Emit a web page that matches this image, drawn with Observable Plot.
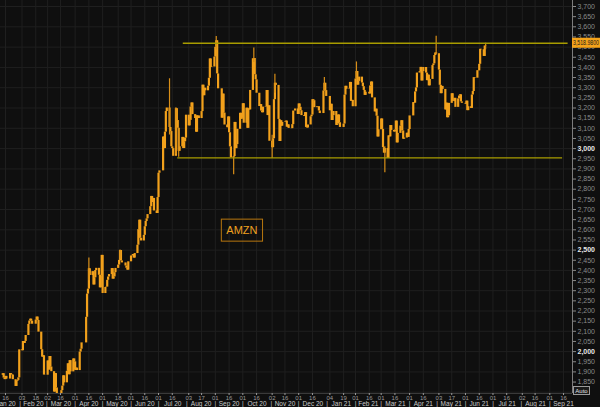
<!DOCTYPE html>
<html><head><meta charset="utf-8">
<script src="https://cdn.jsdelivr.net/npm/d3@7"></script>
<script src="https://cdn.jsdelivr.net/npm/@observablehq/plot@0.6"></script>
<style>html,body{margin:0;padding:0;background:#0f0f0f;overflow:hidden}</style>
</head><body><div id="chart"></div>
<script>
// Daily closes (AMZN), one value per weekday, null = market holiday
const c2001 = [1883.16,1891.30,1869.44,1862.02,1877.94,1864.72,null,1892.00,1887.46,1884.58,1861.64,1828.34,1853.25,1858.00,1870.68,2008.72];
const c2002 = [2004.20,2049.67,2039.87,2050.23,2079.28,2133.91,2150.80,2160.00,2149.87,2134.87,null,2155.67,2170.22,2153.10,2095.97,2009.29,1972.74,1979.59,1884.30,1883.75];
const c2003 = [1953.95,1908.99,1975.83,1924.03,1901.09,1800.61,1891.82,1820.86,1676.61,1785.00,1689.15,1807.84,1830.00,1880.93,1846.09,1902.83,1940.10,1885.84,1955.49,1900.10,1963.95,1949.72];
const c2004 = [1907.70,1918.83,1906.59,1997.59,2011.60,2043.00,2042.76,null,2168.87,2283.32,2307.68,2408.19,2375.00,2393.61,2328.12,2363.49,2399.45,2410.22,2376.00,2314.08,2372.71,2474.00];
const c2005 = [2286.04,2315.99,2317.80,2351.26,2367.61,2379.61,2409.00,2356.95,2367.92,2388.85,2409.78,2426.26,2449.33,2497.94,2446.74,2436.88,null,2421.86,2410.39,2401.10,2442.37];
const c2006 = [2471.04,2472.41,2478.40,2460.60,2483.00,2524.06,2600.86,2647.45,2557.96,2545.02,2572.68,2615.27,2640.98,2653.98,2675.01,2713.82,2764.41,2734.40,2754.58,2692.87,2680.38,2758.82];
const c2007 = [2878.70,2890.30,null,3057.04,3000.12,3081.11,3182.63,3200.00,3104.00,3084.00,3008.87,2999.90,2961.97,3196.84,3138.29,3099.91,2986.55,3008.91,3055.21,3000.33,3033.53,3051.88,3164.68];
const c2008 = [3111.89,3138.83,3205.03,3225.00,3167.46,3148.16,3080.67,3162.24,3161.02,3148.02,3182.41,3312.49,3260.48,3297.37,3284.72,3307.46,3346.49,3441.85,3400.00,3401.80,3450.96];
const c2009 = [3499.12,3531.45,3368.00,3294.62,null,3149.84,3268.61,3175.11,3116.22,3102.97,3156.13,3078.10,3008.73,2954.91,2960.47,3128.99,2999.86,3019.79,3095.13,3174.05,3144.88,3148.73];
const c2010 = [3221.26,3125.00,3199.20,3099.96,3195.69,3190.55,3286.65,3442.93,3443.63,3363.71,3338.65,3272.71,3207.21,3217.01,3184.94,3176.40,3204.40,3207.04,3286.33,3162.78,3211.01,3036.15];
const c2011 = [3004.48,3048.41,3241.16,3322.00,3311.37,3143.74,3035.02,3137.39,3110.28,3128.81,3131.06,3135.66,3105.46,3117.02,3099.40,3098.39,3118.06,3185.07,null,3195.34,3168.04];
const c2012 = [3220.08,3203.53,3186.73,3162.58,3158.00,3177.29,3104.20,3101.49,3116.42,3156.97,3165.12,3240.96,3236.08,3201.65,3206.18,3206.52,3185.27,3172.69,null,3283.96,3322.00,3285.85,3256.93];
const c2101 = [null,3186.63,3218.51,3138.38,3162.16,3182.70,3114.21,3120.83,3165.89,3127.47,3104.25,null,3120.76,3263.38,3306.99,3292.23,3294.00,3326.13,3232.58,3237.62,3206.20];
const c2102 = [3342.88,3380.00,3312.53,3331.00,3352.15,3322.94,3305.00,3286.58,3262.13,3277.71,null,3268.95,3308.64,3328.23,3249.90,3180.74,3194.50,3159.53,3057.16,3092.93];
const c2103 = [3146.14,3094.53,3005.00,2977.57,3000.46,2951.95,3062.85,3057.64,3113.59,3089.49,3081.68,3091.86,3135.73,3027.99,3074.96,3110.87,3137.50,3087.07,3046.26,3052.03,3075.73,3055.29,3094.08];
const c2104 = [3161.00,null,3226.73,3223.82,3279.39,3299.30,3372.20,3379.39,3400.00,3333.00,3379.09,3399.44,3372.01,3334.69,3362.02,3309.04,3340.88,3409.00,3417.43,3458.50,3471.31,3467.42];
const c2105 = [3386.49,3311.87,3270.54,3306.37,3291.61,3190.49,3223.91,3151.94,3161.47,3222.90,3270.39,3232.28,3231.80,3247.68,3203.08,3244.99,3259.05,3265.16,3230.11,3223.07,null];
const c2106 = [3218.65,3233.99,3187.01,3206.22,3198.01,3264.11,3281.15,3349.65,3346.83,3383.87,3383.13,3415.25,3489.24,3486.90,3453.96,3505.44,3503.82];
const monthStarts = ["2020-01-10","2020-02-03","2020-03-02","2020-04-01","2020-05-01","2020-06-01","2020-07-01","2020-08-03","2020-09-01","2020-10-01","2020-11-02","2020-12-01","2021-01-01","2021-02-01","2021-03-01","2021-04-01","2021-05-03","2021-06-01"];
const monthCloses = [c2001,c2002,c2003,c2004,c2005,c2006,c2007,c2008,c2009,c2010,c2011,c2012,c2101,c2102,c2103,c2104,c2105,c2106];

// Intraday extremes on spike days
const wickDates = ["2020-04-16","2020-05-20","2020-07-13","2020-07-20","2020-07-23","2020-09-02","2020-09-21","2020-10-13","2020-11-02","2020-11-05","2020-12-29","2021-02-02","2021-03-05","2021-04-30","2021-06-23"];
const wickLows  = [2349,2455,3067,2971,2957,3486,2871,3424,2951,3273,3283,3340,2881,3462,3487];
const wickHighs = [2461,2500,3344,3201,3100,3552,2962,3496,3066,3366,3350,3427,3009,3554,3519];

// Horizontal levels
const levelValues = [3518.98, 2954];
const levelFrom = ["2020-07-28","2020-07-22"];
const levelTo = ["2021-09-21","2021-09-15"];
const lastPrice = 3518.98;

// Annotation
const annotText = ["AMZN"];
const annotDate = ["2020-09-30"];
const annotValue = [2596];

// Axes
const dayTicks = ["2020-01-16","2020-02-03","2020-02-18","2020-03-02","2020-03-16","2020-04-01","2020-04-16","2020-05-01","2020-05-18","2020-06-01","2020-06-16","2020-07-01","2020-07-16","2020-08-03","2020-08-17","2020-09-01","2020-09-16","2020-10-01","2020-10-16","2020-11-02","2020-11-16","2020-12-01","2020-12-16","2021-01-04","2021-01-19","2021-02-01","2021-02-16","2021-03-01","2021-03-16","2021-04-01","2021-04-16","2021-05-03","2021-05-17","2021-06-01","2021-06-16","2021-07-01","2021-07-16","2021-08-02","2021-08-16","2021-09-01","2021-09-16"];
const yTicks = d3.range(1850, 3751, 50);
const yGrid = d3.range(1800, 3701, 100);
const majorLabels = ["2,000","2,500","3,000"];
const xDomain = [new Date("2020-01-10T13:00Z"), new Date("2021-09-25T19:00Z")];
const yDomain = [1793.6, 3729.6];

const parse = s => new Date(s + "T00:00:00Z");
const rows = [];
monthStarts.forEach((s, i) => {
  let d = parse(s);
  for (const v of monthCloses[i]) {
    while (d.getUTCDay() === 0 || d.getUTCDay() === 6) d = d3.utcDay.offset(d, 1);
    rows.push({date: d, close: v});
    d = d3.utcDay.offset(d, 1);
  }
});
const valid = rows.filter(r => r.close != null);
const bars = valid.map((r, i) => ({date: r.date, y1: i ? valid[i-1].close : r.close, y2: r.close}));
const wicks = wickDates.map((d, i) => ({date: parse(d), lo: wickLows[i], hi: wickHighs[i]}));
const levels = levelValues.map((v, i) => ({v, x1: parse(levelFrom[i]), x2: parse(levelTo[i])}));
const annot = annotText.map((t, i) => ({t, date: parse(annotDate[i]), v: annotValue[i]}));
const ticksX = dayTicks.map(parse);
const months = d3.utcMonths(d3.utcMonth.floor(xDomain[0]), xDomain[1]).map(m => {
  const e = d3.utcMonth.offset(m, 1);
  return {start: m, mid: new Date((+m + +e) / 2), label: d3.utcFormat("%b %y")(m)};
});

const ORANGE = "#f2a11c";
const font = "Liberation Sans, Arial, sans-serif";
const fmt = d3.format(",");

const chart = Plot.plot({
  width: 600, height: 407,
  marginLeft: 0, marginRight: 28, marginTop: 0, marginBottom: 14,
  style: {background: "#0f0f0f", fontFamily: font, overflow: "hidden"},
  x: {type: "utc", domain: xDomain},
  y: {domain: yDomain},
  marks: [
    Plot.ruleY(yGrid, {stroke: "#1f1f1f", strokeWidth: 1}),
    Plot.ruleX(ticksX, {stroke: "#1f1f1f", strokeWidth: 1}),
    Plot.ruleX(bars, {x: "date", y1: "y1", y2: "y2", stroke: ORANGE, strokeWidth: 2.2, clip: true}),
    Plot.ruleX(wicks, {x: "date", y1: "lo", y2: "hi", stroke: "#d88e18", strokeWidth: 1.2, clip: true}),
    Plot.ruleY(levels, {y: "v", x1: "x1", x2: "x2", stroke: "#a89c00", strokeWidth: 1.3}),
    Plot.text(annot, {x: "date", y: "v", text: "t", fill: "#eea020", fontSize: 11, fontFamily: font}),
    Plot.ruleX([xDomain[1]], {stroke: "#7c7c7c"}),
    Plot.ruleY([yDomain[0]], {stroke: "#3a3a3a"}),
    Plot.axisY({anchor: "right", ticks: yTicks.filter(v => v <= yDomain[1]), tickSize: 3, tickPadding: 2, tickFormat: fmt, fontSize: 7, color: "#8a8a8a", label: null}),
    Plot.text(yTicks.filter(v => v > yDomain[1]), {y: d => d, frameAnchor: "right", dx: 5, textAnchor: "start", text: d => fmt(d), fill: "#8a8a8a", fontSize: 7}),
    Plot.axisX({ticks: ticksX, tickFormat: d3.utcFormat("%d"), tickSize: 2, tickPadding: 0, fontSize: 6, color: "#9a9a9a", label: null}),
    Plot.text(months, {x: "mid", frameAnchor: "bottom", dy: 12.5, text: "label", fill: "#c8c8c8", fontSize: 6.5}),
    Plot.text(months.filter(m => m.start > xDomain[0]), {x: "start", frameAnchor: "bottom", dy: 12.5, text: () => "|", fill: "#c8c8c8", fontSize: 6.5})
  ]
});
document.getElementById("chart").appendChild(chart);

const svg = d3.select(chart);
svg.selectAll("g[aria-label='y-axis tick label'] text")
  .filter(function(){ return majorLabels.includes(this.textContent); })
  .attr("fill", "#e8e8e8").attr("font-weight", "bold");

// box around annotation
svg.selectAll("g[aria-label='text'] text").filter(function(){ return annotText.includes(this.textContent); })
  .each(function(){
    const b = this.getBBox();
    const tr = this.getAttribute("transform");
    const r = d3.select(this.parentNode).insert("rect", "text")
      .attr("x", b.x - 5).attr("y", b.y - 5).attr("width", b.width + 10).attr("height", b.height + 10)
      .attr("fill", "none").attr("stroke", "#b8770f").attr("stroke-width", 1);
    if (tr) r.attr("transform", tr);
  });

// last price tag
const ys = chart.scale("y");
const xr = 572, ty = ys.apply(lastPrice);
const tag = svg.append("g").attr("text-anchor", "start");
tag.append("rect").attr("x", xr).attr("y", ty - 5).attr("width", 28).attr("height", 10).attr("fill", "#f5a31a");
tag.append("text").attr("x", xr + 1).attr("y", ty + 2.5).attr("font-size", 7).attr("font-family", font)
  .attr("text-anchor", "start").attr("fill", "#1a1a1a")
  .attr("textLength", 26).attr("lengthAdjust", "spacingAndGlyphs")
  .text(d3.format(",.4f")(lastPrice));

// Auto button
const ab = svg.append("g");
ab.append("rect").attr("x", 573.5).attr("y", 386.5).attr("width", 16).attr("height", 8).attr("fill", "#1a1a1a").attr("stroke", "#9a9a9a");
ab.append("text").attr("x", 581.5).attr("y", 393).attr("text-anchor", "middle").attr("font-size", 6).attr("font-family", font).attr("fill", "#e0e0e0").text("Auto");
</script></body></html>
